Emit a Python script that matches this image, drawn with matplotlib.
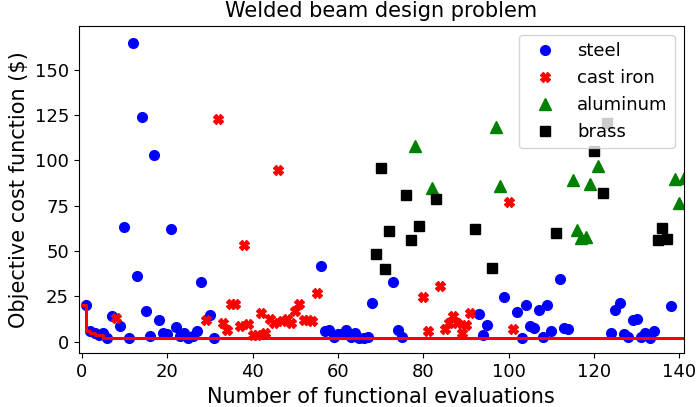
import numpy as np
import matplotlib
matplotlib.use("Agg")
import matplotlib.pyplot as plt

# -----------------------------
# Data (evaluation number, cost)
# -----------------------------
steel_x = [1, 2, 3, 4, 5, 6, 7, 9, 10, 11, 12, 13, 14, 15, 16, 17, 18, 19, 20,
           21, 22, 23, 24, 25, 26, 27, 28, 30, 31,
           56, 57, 58, 59, 60, 61, 62, 63, 64, 65, 66, 67, 68,
           73, 74, 75, 93, 94, 95, 99,
           102, 103, 104, 105, 106, 107, 108, 109, 110, 112, 113, 114,
           124, 125, 126, 127, 128, 129, 130, 131, 132, 133, 134, 138]
steel_y = [20.5, 5.8, 4.6, 3.5, 4.6, 1.8, 14.0, 8.6, 63, 2.2, 165, 36, 124, 16.8, 3.1, 103, 11.7, 4.6, 4.0,
           62, 8.0, 3.1, 4.9, 2.2, 3.1, 5.8, 32.8, 14.7, 1.9,
           42, 6.0, 6.6, 2.7, 4.0, 4.0, 6.6, 2.7, 4.6, 2.2, 2.2, 2.7, 21.5,
           32.8, 6.6, 2.7, 15.5, 3.7, 9.1, 24.7,
           16.6, 2.2, 20.2, 8.6, 7.8, 17.2, 2.7, 20.3, 6.0, 34.3, 7.3, 7.1,
           4.6, 17.5, 21.5, 4.0, 2.7, 12.0, 12.6, 2.7, 4.9, 1.9, 6.0, 19.6]

cast_x = [8, 29, 32, 33, 34, 35, 36, 37, 38, 39, 40, 41, 42, 43, 44, 45, 46, 47, 48,
          49, 50, 51, 52, 53, 54, 55, 80, 81, 84, 85, 86, 87, 88, 89, 90, 91, 100, 101]
cast_y = [12.8, 11.7, 123, 10.4, 6.7, 21, 21, 8.6, 53.5, 9.5, 3.5, 3.5, 16, 4.6, 12.6, 10.4, 94.5, 11.3, 12.6,
          10.4, 16.8, 21, 12.2, 12.2, 11.3, 26.7, 24.5, 5.9, 30.5, 6.9, 10.4, 14.4, 10.4, 4.6, 9.1, 16, 77, 6.9]

alu_x = [78, 82, 97, 98, 115, 116, 117, 118, 119, 121, 139, 140, 141]
alu_y = [108, 84.6, 118.5, 85.9, 89.2, 61.7, 57.1, 58, 86.8, 96.9, 89.6, 76.6, 90.2]

brass_x = [69, 70, 71, 72, 76, 77, 79, 83, 92, 96, 111, 120, 122, 123, 135, 136, 137]
brass_y = [48.3, 96, 40.3, 61, 81, 56.2, 63.6, 78.6, 62, 40.8, 59.9, 105.3, 82.2, 120.7, 55.8, 62.8, 56.4]

# best cost found so far
all_x = np.concatenate([steel_x, cast_x, alu_x, brass_x])
all_y = np.concatenate([steel_y, cast_y, alu_y, brass_y])
order = np.argsort(all_x)
best = np.minimum.accumulate(all_y[order])
line_x = np.arange(len(best) + 1)
line_y = np.append(best, best[-1])

# -----------------------------
# Plot
# -----------------------------
fig = plt.figure(figsize=(6.97, 4.07), dpi=100)
fig.subplots_adjust(left=0.113, right=0.981, bottom=0.132, top=0.937)
ax = fig.add_subplot(111)

ax.plot(steel_x, steel_y, 'bo', ms=7, label='steel')
ax.plot(cast_x, cast_y, 'rX', ms=6.5, label='cast iron')
ax.plot(alu_x, alu_y, 'g^', ms=8.8, label='aluminum')
ax.plot(brass_x, brass_y, 'ks', ms=6.8, label='brass')
ax.plot(line_x, line_y, 'r-', lw=2.2, drawstyle='steps-post')

ax.set_xlim(-0.7, 141)
ax.set_ylim(-6.4, 174.3)
ax.set_title("Welded beam design problem", fontsize=15)
ax.set_xlabel("Number of functional evaluations", fontsize=15)
ax.set_ylabel("Objective cost function ($)", fontsize=15)
ax.tick_params(labelsize=13)
ax.legend(loc='upper right', fontsize=13)

fig.savefig("out.png", dpi=100)
